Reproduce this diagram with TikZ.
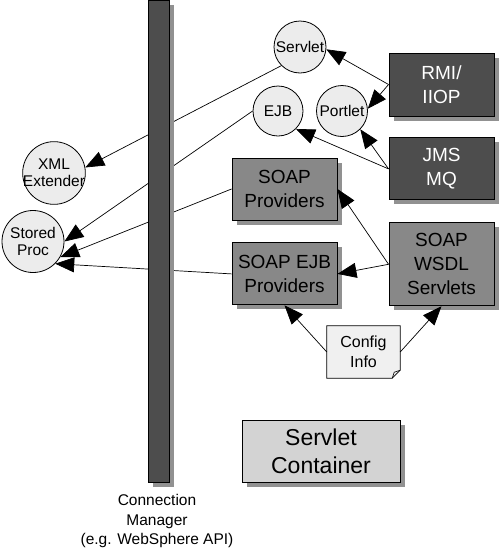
\documentclass[tikz,border=0pt]{standalone}
\usepackage{fontspec}
\setmainfont{Liberation Sans}
\usetikzlibrary{arrows.meta,positioning,shadows,backgrounds}
\definecolor{circfill}{RGB}{236,236,236}
\definecolor{darkfill}{RGB}{77,77,77}
\definecolor{midfill}{RGB}{136,136,136}
\definecolor{lightfill}{RGB}{211,211,211}
\definecolor{notefill}{RGB}{240,240,240}
\definecolor{shadowgray}{RGB}{145,145,145}

\tikzset{
  boxshadow/.style={drop shadow={shadow xshift=4.5pt, shadow yshift=-4.5pt, fill=shadowgray, opacity=1}},
  circ/.style={circle, draw, line width=0.8pt, fill=circfill, inner sep=-2pt,
    minimum size=#1, align=center, font=\fontsize{15.5}{17}\selectfont},
  darkbox/.style={rectangle, draw, line width=0.9pt, fill=darkfill, text=white,
    minimum width=105pt, minimum height=63pt, align=center,
    font=\fontsize{19}{24}\selectfont, boxshadow},
  midbox/.style={rectangle, draw, line width=0.9pt, fill=midfill,
    minimum width=105pt, minimum height=62pt, align=center,
    font=\fontsize{19}{24}\selectfont, boxshadow},
  arr/.style={line width=0.7pt, -{Triangle[length=19pt,width=15pt]}}
}

\begin{document}
\begin{tikzpicture}[x=1pt,y=-1pt]
\useasboundingbox (0,0) rectangle (500,552);

% consumers
\node[circ=52pt] (servlet) at (300,47) {Servlet};
\node[circ=50pt] (ejb) at (278,111) {EJB};
\node[circ=51pt] (portlet) at (342,111) {Portlet};
\node[circ=62pt] (xml) at (54,173) {XML\\Extender};
\node[circ=62pt] (stored) at (33,241.5) {Stored\\Proc};

% protocol boxes
\node[darkbox] (rmi) at (441.5,84.5) {RMI/\\IIOP};
\node[darkbox, minimum height=62pt, below=21pt of rmi] (jms) {JMS\\MQ};
\node[midbox, minimum height=83pt, below=22pt of jms] (wsdl) {SOAP\\WSDL\\Servlets};
\node[midbox] (soapprov) at (284.5,189) {SOAP\\Providers};
\node[midbox, below=22pt of soapprov] (soapejb) {SOAP EJB\\Providers};

% config note
\node[minimum width=73pt, minimum height=52pt, inner sep=0pt, align=center,
  font=\fontsize{16}{20}\selectfont] (config) at (363.5,352) {Config\\Info};
\begin{pgfonlayer}{background}
\draw[line width=0.8pt, fill=notefill] (config.north west) -- (config.north east)
  -- ([yshift=8pt]config.south east) -- ([xshift=-8pt]config.south east)
  -- (config.south west) -- cycle;
\draw[line width=0.6pt] ([xshift=-8pt]config.south east)
  -- ([xshift=-6pt,yshift=6pt]config.south east) -- ([yshift=8pt]config.south east);
\end{pgfonlayer}

\node[rectangle, draw, line width=0.9pt, fill=lightfill, minimum width=158pt,
  minimum height=62pt, align=center, font=\fontsize{23}{28}\selectfont,
  boxshadow] (container) at (321,451) {Servlet\\Container};

% connectors
\draw[arr] (rmi.west) -- (servlet.-5);
\draw[arr] (rmi.west) -- (portlet.5);
\draw[arr] (jms.west) -- (portlet.-45);
\draw[arr] (jms.west) -- (ejb.-45);
\draw[arr] (wsdl.west) -- (soapprov.east);
\draw[arr] (wsdl.west) -- (soapejb.east);
\draw[arr] (config.west) -- (soapejb.south);
\draw[arr] (config.east) -- (wsdl.south);
\draw[arr] (servlet.225) -- (xml.10);
\draw[arr] (ejb.west) -- (stored.east);
\draw[arr] (soapprov.west) -- (stored.-30);
\draw[arr] (soapejb.west) -- (stored.-45);

% connection manager bar
\node[rectangle, draw, line width=0.9pt, fill=darkfill, minimum width=21pt,
  minimum height=482pt, inner sep=0pt, boxshadow] (cm) at (158.5,241) {};
\node[align=center, font=\fontsize{15.5}{19.5}\selectfont] (cmlabel) at (157,521)
  {Connection\\Manager\\(e.g. WebSphere API)};
\end{tikzpicture}
\end{document}
